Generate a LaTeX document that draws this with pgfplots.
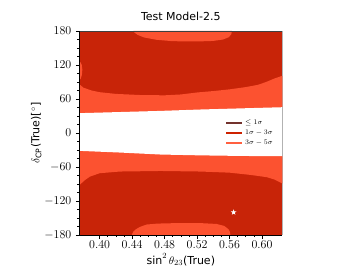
\documentclass[border=0pt]{standalone}
\usepackage{pgfplots}
\pgfplotsset{compat=1.18}
\usepackage{fontspec}
\setmainfont{DejaVu Sans}
\definecolor{cdark}{RGB}{200,36,8}
\definecolor{clight}{RGB}{252,82,48}
\definecolor{legA}{RGB}{115,50,45}
\definecolor{legB}{RGB}{205,34,0}
\definecolor{legC}{RGB}{255,96,64}
\pgfdeclareplotmark{fstar}{%
  \pgfpathmoveto{\pgfpointpolar{90}{\pgfplotmarksize}}%
  \pgfpathlineto{\pgfpointpolar{126}{0.4\pgfplotmarksize}}%
  \pgfpathlineto{\pgfpointpolar{162}{\pgfplotmarksize}}%
  \pgfpathlineto{\pgfpointpolar{198}{0.4\pgfplotmarksize}}%
  \pgfpathlineto{\pgfpointpolar{234}{\pgfplotmarksize}}%
  \pgfpathlineto{\pgfpointpolar{270}{0.4\pgfplotmarksize}}%
  \pgfpathlineto{\pgfpointpolar{306}{\pgfplotmarksize}}%
  \pgfpathlineto{\pgfpointpolar{342}{0.4\pgfplotmarksize}}%
  \pgfpathlineto{\pgfpointpolar{18}{\pgfplotmarksize}}%
  \pgfpathlineto{\pgfpointpolar{54}{0.4\pgfplotmarksize}}%
  \pgfpathclose
  \pgfusepathqfill
}
\begin{document}
\begin{tikzpicture}
\begin{axis}[
  name=ax,
  scale only axis, width=203pt, height=204pt,
  xmin=0.375, xmax=0.625, ymin=-180, ymax=180,
  clip=false,
  axis line style={draw=none},
  xtick={0.40,0.44,0.48,0.52,0.56,0.60},
  ytick={-180,-120,-60,0,60,120,180},
  minor x tick num=3, minor y tick num=3,
  tick align=outside, xtick pos=left, ytick pos=left,
  major tick length=3.5pt, minor tick length=2pt,
  every tick/.style={black, line width=0.6pt},
  xticklabel style={/pgf/number format/fixed, /pgf/number format/fixed zerofill, /pgf/number format/precision=2, yshift=1pt},
  ticklabel style={font=\fontsize{12}{14}\selectfont},
  yticklabel style={xshift=-1pt},
  title={Test Model-2.5},
  title style={font=\fontsize{11}{13}\selectfont, at={(axis description cs:0.5,1.04)}, anchor=center},
  xlabel={$\sin^2\theta_{23}$(True)},
  ylabel={$\delta_{\mathrm{CP}}$(True)[$^\circ$]},
  every axis x label/.style={at={(axis description cs:0.5,-0.12)}, anchor=center, font=\fontsize{11}{13}\selectfont},
  every axis y label/.style={at={(axis description cs:-0.212,0.5)}, anchor=center, rotate=90, font=\fontsize{11}{13}\selectfont},
  legend style={at={(axis description cs:0.715,0.5)}, anchor=west, draw=none, fill=none,
    font=\fontsize{7.5}{9}\selectfont, row sep=0pt, inner sep=1pt},
  legend cell align=left,
  legend image code/.code={\draw[#1] (0pt,0pt) -- (16pt,0pt);},
]
% right spine (light gray), mostly hidden by fills
\draw[gray!60, line width=1pt] (rel axis cs:1,0) -- (rel axis cs:1,1);
% 1sigma-3sigma background
\addplot[fill=cdark, draw=none, forget plot] coordinates {(0.375,-180)(0.625,-180)(0.625,180)(0.375,180)} -- cycle;
% 3sigma-5sigma band
\addplot[fill=clight, draw=none, forget plot] coordinates {
 (0.375,86)(0.38,80)(0.39,75)(0.40,72)(0.42,69)(0.45,67)(0.48,66.5)(0.50,68)(0.52,71.5)(0.54,74)(0.56,77)(0.58,81)(0.595,85)(0.605,90)(0.615,96)(0.625,101)
 (0.625,-89)(0.615,-82)(0.606,-78)(0.586,-74)(0.56,-70)(0.524,-68)(0.475,-67)(0.425,-68)(0.40,-71)(0.388,-77)(0.382,-83)(0.375,-92)} -- cycle;
% top cap
\addplot[fill=clight, draw=none, forget plot] coordinates {
 (0.4416,180)(0.443,177)(0.447,173)(0.455,168.5)(0.47,164.5)(0.49,162)(0.52,161.5)(0.54,162.5)(0.552,165)(0.559,169)(0.562,174)(0.563,180)} -- cycle;
% bottom cap
\addplot[fill=clight, draw=none, forget plot] coordinates {
 (0.4396,-180)(0.4415,-174)(0.4445,-170)(0.45,-165.5)(0.458,-161.5)(0.47,-160)(0.483,-159.3)(0.524,-159)(0.544,-160.5)(0.5535,-164)(0.5588,-170)(0.5605,-175)(0.561,-180)} -- cycle;
% left bump
\addplot[fill=clight, draw=none, forget plot] coordinates {
 (0.375,93)(0.3768,96)(0.3782,103)(0.3787,112)(0.378,120)(0.3765,124.5)(0.375,126)} -- cycle;
% excluded (white) band
\addplot[fill=white, draw=none, forget plot] coordinates {
 (0.375,35)(0.425,37)(0.475,39)(0.525,41.5)(0.575,43.5)(0.625,45.5)
 (0.625,-41)(0.575,-40.5)(0.525,-39.5)(0.475,-38)(0.425,-34.5)(0.375,-31.5)} -- cycle;
% best fit
\addplot[only marks, mark=fstar, mark size=3pt, white, forget plot] coordinates {(0.565,-140)};
% spines
\draw[gray!60, line width=1pt] (0.625,-41) -- (0.625,45.5);
\draw[black!75, line width=0.8pt] (rel axis cs:0,1) -- (rel axis cs:1,1);
\draw[black, line width=0.8pt] (rel axis cs:0,0) -- (rel axis cs:0,1);
\draw[black, line width=0.8pt] (rel axis cs:0,0) -- (rel axis cs:1,0);
\addlegendimage{draw=legA, line width=1.5pt}
\addlegendentry{$\leq 1\sigma$}
\addlegendimage{draw=legB, line width=1.5pt}
\addlegendentry{$1\sigma-3\sigma$}
\addlegendimage{draw=legC, line width=1.5pt}
\addlegendentry{$3\sigma-5\sigma$}
\end{axis}
\path (ax.south west) ++(-79.33pt,-29pt) rectangle ++(352pt,264pt);
\end{tikzpicture}
\end{document}
